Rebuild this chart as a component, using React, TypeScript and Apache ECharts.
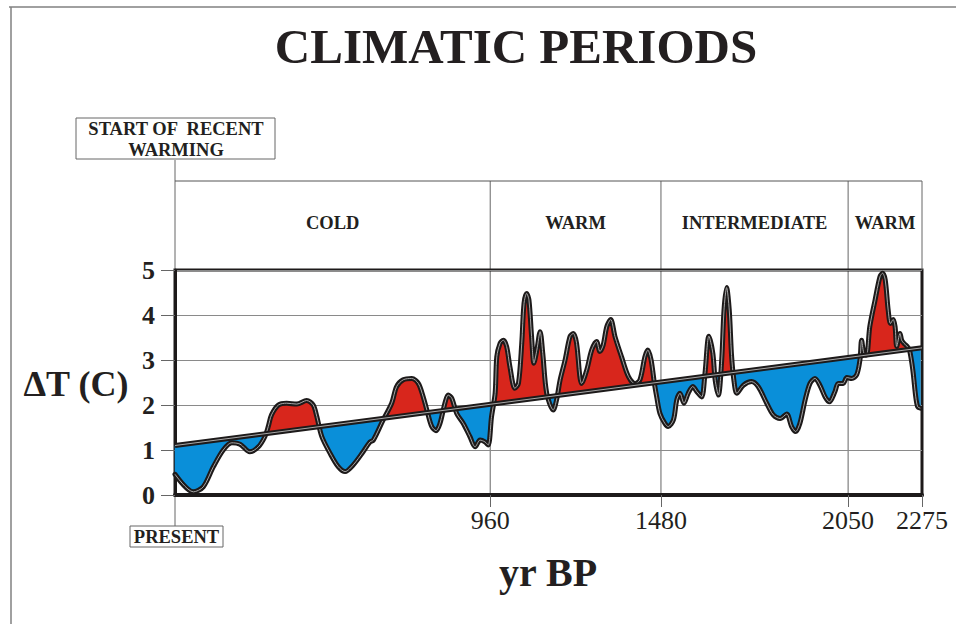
import React, { useEffect, useRef } from "react";
import * as echarts from "echarts";

// Years before present (x) and temperature anomaly (°C)
const years = [
  0, 56, 86, 117, 147, 173, 198, 228, 254, 274, 284, 294, 315, 340, 371, 401, 421, 432, 447, 472,
  497, 518, 543, 573, 594, 604, 634, 660, 675, 695, 721, 741, 756, 767, 782, 795, 807, 822, 832, 843,
  858, 878, 898, 914, 929, 944, 954, 964, 975, 980, 990, 1000, 1010, 1020, 1035, 1046, 1056, 1063, 1071, 1078,
  1086, 1093, 1102, 1112, 1120, 1132, 1152, 1162, 1173, 1188, 1203, 1213, 1223, 1233, 1238, 1254, 1269, 1284, 1294, 1304,
  1315, 1327, 1340, 1360, 1381, 1401, 1416, 1431, 1440, 1450, 1460, 1467, 1477, 1492, 1502, 1518, 1528, 1538, 1550, 1563,
  1577, 1589, 1604, 1614, 1626, 1638, 1645, 1655, 1665, 1672, 1680, 1688, 1695, 1702, 1711, 1731, 1756, 1776, 1802, 1822,
  1843, 1863, 1878, 1890, 1903, 1919, 1934, 1949, 1964, 1980, 1993, 2010, 2020, 2035, 2046, 2061, 2076, 2086, 2091, 2098,
  2106, 2116, 2132, 2147, 2155, 2163, 2172, 2179, 2187, 2193, 2198, 2208, 2213, 2220, 2229, 2237, 2247, 2256, 2262, 2270,
];
const temps = [
  0.46, 0.07, 0.18, 0.63, 1.0, 1.16, 1.13, 0.96, 1.07, 1.3, 1.52, 1.78, 2.0, 2.04, 2.02, 2.1, 2.0, 1.74, 1.3, 0.93,
  0.63, 0.52, 0.67, 0.96, 1.18, 1.22, 1.67, 2.04, 2.41, 2.56, 2.59, 2.48, 2.18, 1.89, 1.52, 1.43, 1.59, 2.04, 2.22, 2.15,
  1.81, 1.59, 1.3, 1.07, 1.22, 1.18, 1.11, 1.74, 2.26, 3.07, 3.37, 3.44, 3.3, 2.85, 2.37, 2.48, 3.37, 4.26, 4.48, 4.33,
  3.52, 2.93, 3.22, 3.63, 3.15, 2.26, 1.89, 2.11, 2.56, 3.0, 3.52, 3.59, 3.37, 2.63, 2.48, 2.78, 3.22, 3.41, 3.19, 3.33,
  3.74, 3.9, 3.52, 3.07, 2.63, 2.47, 2.56, 3.07, 3.22, 3.0, 2.48, 2.18, 1.81, 1.59, 1.52, 1.67, 2.11, 2.26, 2.04, 2.26,
  2.41, 2.3, 2.18, 2.7, 3.53, 3.15, 2.56, 2.22, 3.0, 4.11, 4.61, 4.11, 3.1, 2.56, 2.26, 2.44, 2.52, 2.41, 2.04, 1.78,
  1.7, 1.8, 1.52, 1.41, 1.59, 2.11, 2.48, 2.59, 2.44, 2.18, 2.07, 2.3, 2.48, 2.48, 2.61, 2.59, 2.67, 3.0, 3.44, 3.15,
  3.11, 3.74, 4.33, 4.85, 4.93, 4.78, 4.11, 3.81, 3.9, 3.74, 3.3, 3.59, 3.44, 3.37, 3.31, 3.22, 2.78, 2.18, 1.96, 1.93,
];

// Linear trend line end values
const trendYears = [0, 2275];
const trendTemps = [1.1, 3.27];

const xTickYears = [960, 1480, 2050, 2275];
const periodBounds = [0, 960, 1480, 2050, 2275];
const periodNames = ["COLD", "WARM", "INTERMEDIATE", "WARM"];
const yMin = 0;
const yMax = 5;

const SERIF = "'Liberation Serif', 'Times New Roman', serif";
const INK = "#231f20";
const RED = "#d8261c";
const BLUE = "#0a8fd9";

function trendAt(x: number) {
  return trendTemps[0] + ((trendTemps[1] - trendTemps[0]) * (x - trendYears[0])) / (trendYears[1] - trendYears[0]);
}

// Curve points with the crossings of the trend line inserted
function buildPoints() {
  const pts: number[][] = [];
  for (let i = 0; i < years.length; i++) {
    pts.push([years[i], temps[i]]);
    if (i < years.length - 1) {
      const d0 = temps[i] - trendAt(years[i]);
      const d1 = temps[i + 1] - trendAt(years[i + 1]);
      if (d0 * d1 < 0) {
        const f = d0 / (d0 - d1);
        const xc = years[i] + f * (years[i + 1] - years[i]);
        pts.push([xc, trendAt(xc)]);
      }
    }
  }
  return pts;
}

// Contiguous regions above (warm) or below (cold) the trend line
function buildRegions(pts: number[][]) {
  const regions: { warm: boolean; pts: number[][] }[] = [];
  let cur: { warm: boolean; pts: number[][] } | null = null;
  for (let i = 0; i < pts.length - 1; i++) {
    const a = pts[i];
    const b = pts[i + 1];
    const mid = (a[1] + b[1]) / 2 - trendAt((a[0] + b[0]) / 2);
    const warm = mid > 0;
    if (!cur || cur.warm !== warm) {
      cur = { warm, pts: [a] };
      regions.push(cur);
    }
    cur.pts.push(b);
  }
  return regions;
}

export default function App() {
  const ref = useRef<HTMLDivElement>(null);
  useEffect(() => {
    if (!ref.current) return;
    const chart = echarts.init(ref.current, undefined, { renderer: "svg" });
    const pts = buildPoints();
    const regions = buildRegions(pts);
    const SM = 0.3;
    chart.setOption({
      animation: false,
      grid: {
        left: 175,
        right: 34,
        top: 270,
        bottom: 129,
        show: true,
        borderColor: "#1d1a1a",
        borderWidth: 3,
      },
      xAxis: {
        type: "value",
        min: 0,
        max: 2275,
        splitLine: { show: false },
        axisLine: { show: true, lineStyle: { color: "#1d1a1a", width: 4 } },
        axisTick: { show: true, customValues: xTickYears, length: 12, lineStyle: { color: "#666", width: 1 } },
        axisLabel: {
          customValues: xTickYears,
          margin: 12,
          fontFamily: SERIF,
          fontSize: 26,
          color: INK,
          formatter: (v: number) => String(v),
        },
      },
      yAxis: {
        type: "value",
        min: yMin,
        max: yMax,
        interval: 1,
        splitLine: { show: true, lineStyle: { color: "#8a8a8a", width: 1.2 } },
        axisLine: { show: true, lineStyle: { color: "#1d1a1a", width: 3 } },
        axisTick: { show: true, length: 14, lineStyle: { color: "#666", width: 1 } },
        axisLabel: { margin: 20, fontFamily: SERIF, fontSize: 26, fontWeight: "bold", color: INK },
      },
      series: [
        {
          type: "custom",
          name: "anomaly fill",
          silent: true,
          z: 3,
          data: regions.map((r, i) => [r.pts[0][0], r.pts[0][1], i]),
          renderItem: (params: any, api: any) => {
            const r = regions[params.dataIndex];
            const top = r.pts.map(([x, y]) => api.coord([x, y]));
            const base = r.pts
              .slice()
              .reverse()
              .map(([x]) => api.coord([x, trendAt(x)]));
            const color = r.warm ? RED : BLUE;
            return {
              type: "polygon",
              shape: { points: top.concat(base) },
              style: { fill: color, stroke: color, lineWidth: 0.5 },
            };
          },
        },
        {
          type: "line",
          name: "curveOuter",
          data: years.map((x, i) => [x, temps[i]]),
          smooth: SM,
          symbol: "none",
          silent: true,
          lineStyle: { color: "#1d1a1a", width: 5, join: "round", cap: "round" },
          z: 4,
        },
        {
          type: "line",
          name: "curveInner",
          data: years.map((x, i) => [x, temps[i]]),
          smooth: SM,
          symbol: "none",
          silent: true,
          lineStyle: { color: "#a8a8a8", width: 1, join: "round" },
          z: 5,
        },
        {
          type: "line",
          name: "trendOuter",
          data: trendYears.map((x, i) => [x, trendTemps[i]]),
          symbol: "none",
          silent: true,
          lineStyle: { color: "#1d1a1a", width: 5 },
          z: 6,
        },
        {
          type: "line",
          name: "trendInner",
          data: trendYears.map((x, i) => [x, trendTemps[i]]),
          symbol: "none",
          silent: true,
          lineStyle: { color: "#a8a8a8", width: 1 },
          z: 7,
        },
      ],
    });

    const px = (v: number) => chart.convertToPixel({ xAxisIndex: 0 }, v) as number;
    const py = (v: number) => chart.convertToPixel({ yAxisIndex: 0 }, v) as number;
    const x0 = px(periodBounds[0]);
    const xEnd = px(periodBounds[periodBounds.length - 1]);
    const yTop = py(yMax);
    const yBot = py(yMin);
    const boxTop = 181;
    const thin = { stroke: "#666", lineWidth: 1 };
    const textStyle = (t: string, x: number, y: number, size: number, bold = true) => ({
      type: "text",
      x,
      y,
      silent: true,
      style: {
        text: t,
        fontFamily: SERIF,
        fontSize: size,
        fontWeight: bold ? "bold" : "normal",
        fill: INK,
        textAlign: "center",
        textVerticalAlign: "middle",
      },
    });
    const graphics: any[] = [
      { type: "line", shape: { x1: 9, y1: 7, x2: 956, y2: 7 }, style: { stroke: "#808080", lineWidth: 1.5 } },
      { type: "line", shape: { x1: 11, y1: 7, x2: 11, y2: 624 }, style: { stroke: "#808080", lineWidth: 1.5 } },
      textStyle("CLIMATIC PERIODS", 516, 46, 49),
      { type: "rect", shape: { x: 76, y: 118, width: 199, height: 41 }, style: { fill: "none", ...thin } },
      textStyle("START OF  RECENT", 176, 129, 18.5),
      textStyle("WARMING", 176, 150, 18.5),
      { type: "line", shape: { x1: x0, y1: 160, x2: x0, y2: yTop }, style: thin },
      { type: "line", shape: { x1: x0, y1: boxTop, x2: xEnd, y2: boxTop }, style: { stroke: "#555", lineWidth: 1 } },
      { type: "line", shape: { x1: xEnd, y1: boxTop, x2: xEnd, y2: yTop }, style: thin },
      { type: "line", shape: { x1: x0, y1: yBot, x2: x0, y2: 526 }, style: thin },
      { type: "rect", shape: { x: 130, y: 526, width: 93, height: 21 }, style: { fill: "#fff", ...thin } },
      textStyle("PRESENT", 176.5, 537, 18.5),
      textStyle("\u0394T (C)", 76, 384, 36),
      textStyle("yr BP", 548, 572, 40),
    ];
    for (let i = 1; i < periodBounds.length - 1; i++) {
      const xv = px(periodBounds[i]);
      graphics.push({ type: "line", z: -1, shape: { x1: xv, y1: boxTop, x2: xv, y2: yBot }, style: thin });
    }
    for (let i = 0; i < periodNames.length; i++) {
      const xm = (px(periodBounds[i]) + px(periodBounds[i + 1])) / 2;
      graphics.push(textStyle(periodNames[i], xm, 223, 18.5));
    }
    chart.setOption({ graphic: graphics });

    return () => chart.dispose();
  }, []);
  return (
    <div
      ref={ref}
      style={{ position: "absolute", left: 0, top: 0, width: 956, height: 624, background: "#fff" }}
    />
  );
}
